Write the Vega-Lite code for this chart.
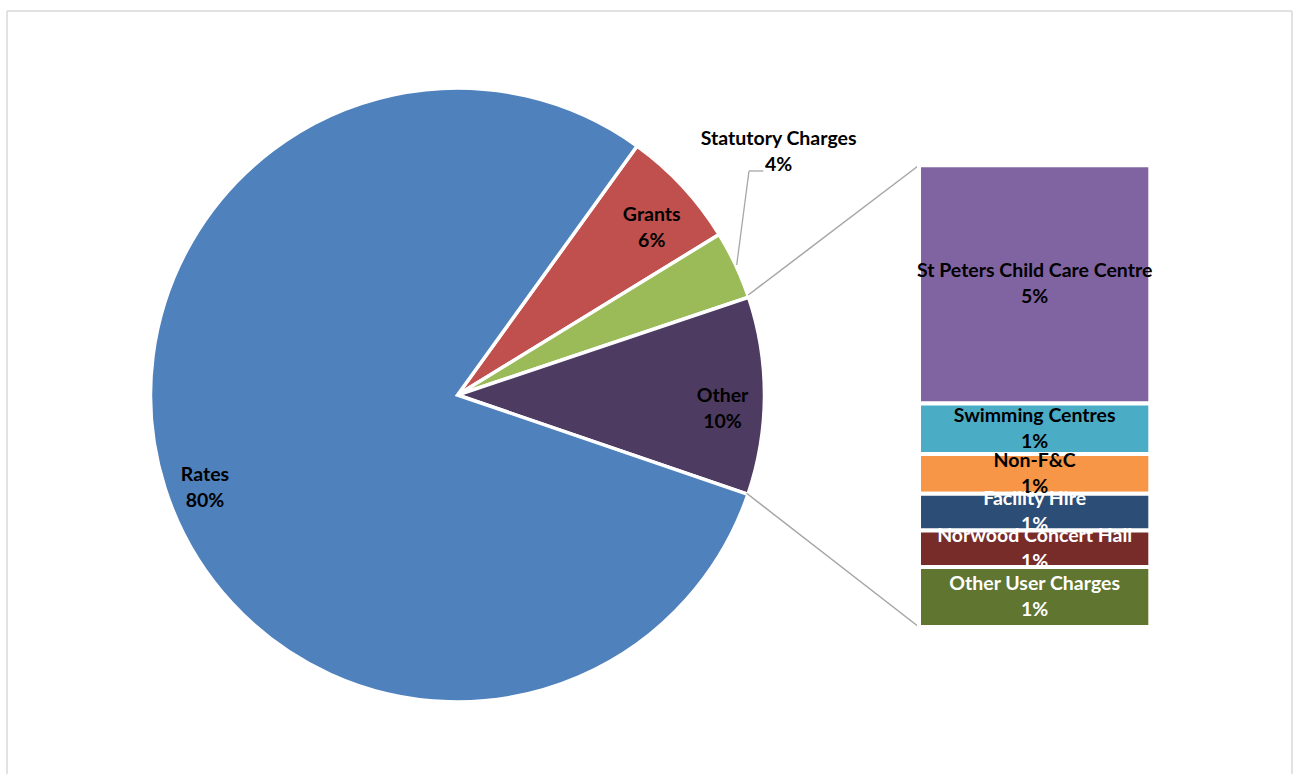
{
  "$schema": "https://vega.github.io/schema/vega-lite/v6.json",
  "width": 1285,
  "height": 763,
  "autosize": "none",
  "padding": {"left": 7, "top": 11, "right": 1, "bottom": 0},
  "background": "white",
  "config": {
    "view": {"stroke": null},
    "text": {"font": "Lato", "fontWeight": "bold", "fontSize": 19.5, "lineHeight": 26}
  },
  "datasets": {
    "pie": [
      {"category": "Grants", "value": 6.3},
      {"category": "Statutory Charges", "value": 3.6},
      {"category": "Other", "value": 10.4},
      {"category": "Rates", "value": 79.7}
    ],
    "bar": [
      {"category": "St Peters Child Care Centre", "value": 5.36},
      {"category": "Swimming Centres", "value": 1.14},
      {"category": "Non-F&C", "value": 0.89},
      {"category": "Facility Hire", "value": 0.83},
      {"category": "Norwood Concert Hall", "value": 0.82},
      {"category": "Other User Charges", "value": 1.35}
    ]
  },
  "layer": [
    {
      "data": {"values": [{}]},
      "layer": [
        {
          "mark": {"type": "rule", "color": "#D9D9D9", "strokeWidth": 1.5},
          "encoding": {
            "x": {"datum": -3.943, "type": "quantitative", "scale": {"domain": [-3.943, 1.6126], "nice": false, "zero": false}, "axis": null},
            "y": {"datum": 13.861, "type": "quantitative", "scale": {"domain": [-3.308, 13.861], "nice": false, "zero": false}, "axis": null},
            "x2": {"datum": 1.6126}
          }
        },
        {
          "mark": {"type": "rule", "color": "#D9D9D9", "strokeWidth": 1.5},
          "encoding": {
            "x": {"datum": -3.943, "type": "quantitative", "scale": {"domain": [-3.943, 1.6126], "nice": false, "zero": false}, "axis": null},
            "y": {"datum": 13.861, "type": "quantitative", "scale": {"domain": [-3.308, 13.861], "nice": false, "zero": false}, "axis": null},
            "y2": {"datum": -3.308}
          }
        },
        {
          "mark": {"type": "rule", "color": "#D9D9D9", "strokeWidth": 1.5},
          "encoding": {
            "x": {"datum": 1.6126, "type": "quantitative", "scale": {"domain": [-3.943, 1.6126], "nice": false, "zero": false}, "axis": null},
            "y": {"datum": 13.861, "type": "quantitative", "scale": {"domain": [-3.308, 13.861], "nice": false, "zero": false}, "axis": null},
            "y2": {"datum": -3.308}
          }
        }
      ]
    },
    {
      "data": {"name": "pie"},
      "transform": [
        {"calculate": "indexof(['Grants','Statutory Charges','Other','Rates'], datum.category)", "as": "idx"}
      ],
      "layer": [
        {
          "mark": {"type": "arc", "outerRadius": 307, "stroke": "white", "strokeWidth": 3.5},
          "encoding": {
            "theta": {"field": "value", "type": "quantitative", "stack": true, "scale": {"range": [0.6248, 6.908]}},
            "order": {"field": "idx", "type": "quantitative"},
            "x": {"datum": -1.9953, "type": "quantitative", "scale": {"domain": [-3.943, 1.6126], "nice": false, "zero": false}, "axis": null},
            "y": {"datum": 5.2205, "type": "quantitative", "scale": {"domain": [-3.308, 13.861], "nice": false, "zero": false}, "axis": null},
            "color": {
              "field": "category", "type": "nominal", "legend": null,
              "scale": {
                "domain": ["Rates", "Grants", "Statutory Charges", "Other", "St Peters Child Care Centre", "Swimming Centres", "Non-F&C", "Facility Hire", "Norwood Concert Hall", "Other User Charges"],
                "range": ["#4F81BD", "#C0504D", "#9BBB59", "#4D3B62", "#8064A2", "#4BACC6", "#F79646", "#2C4D75", "#772C2A", "#5F7530"]
              }
            }
          }
        },
        {
          "transform": [
            {"calculate": "datum.category == 'Statutory Charges' ? [''] : [datum.category, format(datum.value, '.0f') + '%']", "as": "label"}
          ],
          "mark": {"type": "text", "radius": 265, "align": "center", "baseline": "middle", "color": "black"},
          "encoding": {
            "theta": {"field": "value", "type": "quantitative", "stack": true, "scale": {"range": [0.6248, 6.908]}},
            "order": {"field": "idx", "type": "quantitative"},
            "x": {"datum": -1.9953, "type": "quantitative", "scale": {"domain": [-3.943, 1.6126], "nice": false, "zero": false}, "axis": null},
            "y": {"datum": 5.2205, "type": "quantitative", "scale": {"domain": [-3.308, 13.861], "nice": false, "zero": false}, "axis": null},
            "text": {"field": "label"}
          }
        },
        {
          "transform": [
            {"filter": "datum.category == 'Statutory Charges'"},
            {"calculate": "[datum.category, format(datum.value, '.0f') + '%']", "as": "label"}
          ],
          "mark": {"type": "text", "align": "center", "baseline": "middle", "color": "black", "dy": -13},
          "encoding": {
            "x": {"datum": -0.607, "type": "quantitative", "scale": {"domain": [-3.943, 1.6126], "nice": false, "zero": false}, "axis": null},
            "y": {"datum": 10.677, "type": "quantitative", "scale": {"domain": [-3.308, 13.861], "nice": false, "zero": false}, "axis": null},
            "text": {"field": "label"}
          }
        }
      ]
    },
    {
      "data": {"values": [{}]},
      "layer": [
        {
          "mark": {"type": "rule", "color": "#A6A6A6", "strokeWidth": 1.3},
          "encoding": {
            "x": {"datum": -0.6732, "type": "quantitative", "scale": {"domain": [-3.943, 1.6126], "nice": false, "zero": false}, "axis": null},
            "y": {"datum": 10.261, "type": "quantitative", "scale": {"domain": [-3.308, 13.861], "nice": false, "zero": false}, "axis": null},
            "x2": {"datum": -0.735},
            "y2": {"datum": 10.261}
          }
        },
        {
          "mark": {"type": "rule", "color": "#A6A6A6", "strokeWidth": 1.3},
          "encoding": {
            "x": {"datum": -0.735, "type": "quantitative", "scale": {"domain": [-3.943, 1.6126], "nice": false, "zero": false}, "axis": null},
            "y": {"datum": 10.261, "type": "quantitative", "scale": {"domain": [-3.308, 13.861], "nice": false, "zero": false}, "axis": null},
            "x2": {"datum": -0.7882},
            "y2": {"datum": 8.146}
          }
        },
        {
          "mark": {"type": "rule", "color": "#A6A6A6", "strokeWidth": 1.5},
          "encoding": {
            "x": {"datum": -0.738, "type": "quantitative", "scale": {"domain": [-3.943, 1.6126], "nice": false, "zero": false}, "axis": null},
            "y": {"datum": 7.471, "type": "quantitative", "scale": {"domain": [-3.308, 13.861], "nice": false, "zero": false}, "axis": null},
            "x2": {"datum": 0},
            "y2": {"datum": 10.39}
          }
        },
        {
          "mark": {"type": "rule", "color": "#A6A6A6", "strokeWidth": 1.5},
          "encoding": {
            "x": {"datum": -0.7454, "type": "quantitative", "scale": {"domain": [-3.943, 1.6126], "nice": false, "zero": false}, "axis": null},
            "y": {"datum": 3.009, "type": "quantitative", "scale": {"domain": [-3.308, 13.861], "nice": false, "zero": false}, "axis": null},
            "x2": {"datum": 0},
            "y2": {"datum": 0}
          }
        }
      ]
    },
    {
      "data": {"name": "bar"},
      "transform": [
        {"calculate": "indexof(['Other User Charges','Norwood Concert Hall','Facility Hire','Non-F&C','Swimming Centres','St Peters Child Care Centre'], datum.category)", "as": "idx"},
        {"stack": "value", "groupby": [], "sort": [{"field": "idx", "order": "ascending"}], "as": ["v0", "v1"]},
        {"calculate": "(datum.v0 + datum.v1) / 2", "as": "mid"},
        {"calculate": "[datum.category, format(datum.value, '.0f') + '%']", "as": "label"}
      ],
      "layer": [
        {
          "mark": {"type": "bar", "stroke": "white", "strokeWidth": 4},
          "encoding": {
            "x": {"datum": 0, "type": "quantitative", "scale": {"domain": [-3.943, 1.6126], "nice": false, "zero": false}, "axis": null},
            "x2": {"datum": 1},
            "y": {"field": "v0", "type": "quantitative", "scale": {"domain": [-3.308, 13.861], "nice": false, "zero": false}, "axis": null},
            "y2": {"field": "v1"},
            "color": {"field": "category", "type": "nominal", "legend": null}
          }
        },
        {
          "mark": {"type": "text", "align": "center", "baseline": "middle", "dy": -13},
          "encoding": {
            "x": {"datum": 0.5, "type": "quantitative", "scale": {"domain": [-3.943, 1.6126], "nice": false, "zero": false}, "axis": null},
            "y": {"field": "mid", "type": "quantitative", "scale": {"domain": [-3.308, 13.861], "nice": false, "zero": false}, "axis": null},
            "text": {"field": "label"},
            "color": {
              "condition": {"test": "indexof(['Facility Hire','Norwood Concert Hall','Other User Charges'], datum.category) >= 0", "value": "white"},
              "value": "black"
            }
          }
        }
      ]
    }
  ]
}
